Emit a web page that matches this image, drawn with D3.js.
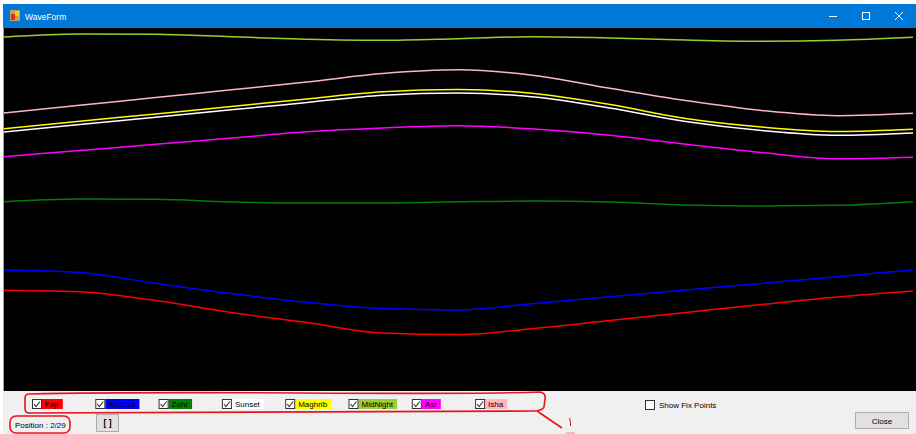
<!DOCTYPE html>
<html>
<head>
<meta charset="utf-8">
<script src="https://cdn.jsdelivr.net/npm/d3@7"></script>
<style>
  body { margin: 0; background: #fff; }
  svg { display: block; font-family: "Liberation Sans", Arial, sans-serif; }
</style>
</head>
<body>
<svg id="win" width="916" height="434"></svg>
<script>
const W = 916, H = 434;

// Series names, line colours and sampled values (13 samples across the period)
const names   = ["Fajr", "Sunrise", "Zohr", "Sunset", "Maghrib", "MidNight", "Asr", "Isha"];
const colors  = ["#ff0000", "#0000ff", "#008000", "#ffffff", "#ffff00", "#9acd32", "#ff00ff", "#ffb6c1"];
const samples = d3.range(13);

const fajr     = [100.7, 99.2, 90.4, 78.5, 68.4, 58, 56.5, 62.5, 70.5, 78.5, 86.5, 94, 100];
const sunrise  = [121, 118.5, 107.7, 97.4, 88.7, 82.4, 81, 87.5, 94.2, 101, 107.6, 114.3, 121];
const zohr     = [189.3, 192, 191.7, 189, 188, 188, 189.2, 190, 189, 186, 185, 185.7, 189.3];
const sunset   = [259, 266.5, 273.8, 281.2, 288.5, 295.8, 298, 294, 283, 269.5, 260.5, 255.7, 258];
const maghrib  = [262.3, 269.7, 277.1, 284.5, 292, 299.2, 301.5, 297.5, 286.5, 272.5, 264, 259.5, 261.7];
const midnight = [354, 357, 356.7, 354.3, 351.8, 350.7, 352.3, 354.3, 353.1, 350.9, 349.7, 350.7, 353.7];
const asr      = [234.3, 240.5, 246.7, 253, 259.2, 263, 265.2, 262, 255.8, 246.8, 238.5, 232.2, 233.7];
const isha     = [278, 285.7, 293.5, 301.2, 309, 317.5, 321.2, 315.5, 302.7, 290.5, 280.5, 275.3, 277.7];
const series   = [fajr, sunrise, zohr, sunset, maghrib, midnight, asr, isha];

const position = "Position : 2/29";

var svg = d3.select("#win");

// Title bar
svg.append("rect").attr("x", 3).attr("y", 4).attr("width", W - 3).attr("height", 24).attr("fill", "#0078d7");
// little app icon
svg.append("rect").attr("x", 10).attr("y", 10).attr("width", 10).attr("height", 11).attr("fill", "#c8a050");
svg.append("rect").attr("x", 11).attr("y", 14).attr("width", 4).attr("height", 6).attr("fill", "#d03030");
svg.append("rect").attr("x", 15).attr("y", 11).attr("width", 4).attr("height", 5).attr("fill", "#f0d020");
svg.append("text").attr("x", 25).attr("y", 19.5).attr("fill", "#fff").style("font-size", "8.5px").text("WaveForm");
// window buttons
svg.append("line").attr("x1", 829).attr("x2", 837).attr("y1", 16.5).attr("y2", 16.5).attr("stroke", "#fff");
svg.append("rect").attr("x", 862.5).attr("y", 12.5).attr("width", 7).attr("height", 7).attr("fill", "none").attr("stroke", "#fff");
svg.append("path").attr("d", "M895,12L903,20M903,12L895,20").attr("stroke", "#fff");

// Plot area
svg.append("rect").attr("x", 3).attr("y", 28).attr("width", W - 3).attr("height", 363).attr("fill", "#000");
svg.append("line").attr("x1", 3.5).attr("x2", 3.5).attr("y1", 28).attr("y2", 391).attr("stroke", "#a0a0a0");

var scaleX = d3.scaleLinear().domain([0, 12]).range([4, 913]);
var scaleY = d3.scaleLinear().domain([0, 363]).range([391, 28]);

var line = d3.line()
    .x((d, i) => scaleX(samples[i]))
    .y(d => scaleY(d))
    .curve(d3.curveMonotoneX);

svg.append("g").selectAll("path")
    .data(series)
    .join("path")
    .attr("d", line)
    .attr("fill", "none")
    .attr("stroke", (d, i) => colors[i])
    .attr("stroke-width", 1.5);

// Bottom panel
svg.append("rect").attr("x", 3).attr("y", 391).attr("width", W - 3).attr("height", H - 391).attr("fill", "#f0f0f0");

function checkbox(x, y, checked) {
    svg.append("rect").attr("x", x + 0.5).attr("y", y + 0.5).attr("width", 9).attr("height", 9)
        .attr("fill", "#fff").attr("stroke", "#333");
    if (checked)
        svg.append("path").attr("d", `M${x + 2},${y + 5}L${x + 4},${y + 7.5}L${x + 8},${y + 2.5}`)
            .attr("fill", "none").attr("stroke", "#333").attr("stroke-width", 1.1);
}

// Legend checkboxes with coloured labels
var legend = svg.append("g");
names.forEach(function(n, i) {
    let bx = 32 + i * 63.3;
    checkbox(bx, 399, true);
    let bg = legend.append("rect").attr("x", bx + 10).attr("y", 399).attr("height", 10).attr("fill", colors[i]);
    let t = legend.append("text").attr("x", bx + 13).attr("y", 407).style("font-size", "8px").attr("fill", "#000").text(n);
    bg.attr("width", t.node().getComputedTextLength() + 7);
});

// Show Fix Points
checkbox(645, 400, false);
svg.append("text").attr("x", 659).attr("y", 408).style("font-size", "8px").text("Show Fix Points");

// Position text
svg.append("text").attr("x", 15).attr("y", 428).style("font-size", "8px").text(position);

// "[]" button
svg.append("rect").attr("x", 96.5).attr("y", 414.5).attr("width", 22).attr("height", 17).attr("fill", "#e1e1e1").attr("stroke", "#adadad");
svg.append("text").attr("x", 107.5).attr("y", 426).attr("text-anchor", "middle").style("font-size", "8.5px").style("font-weight", "bold").text("[ ]");

// Close button
svg.append("rect").attr("x", 855.5).attr("y", 412.5).attr("width", 53).attr("height", 16).attr("fill", "#e1e1e1").attr("stroke", "#adadad");
svg.append("text").attr("x", 882).attr("y", 423.5).attr("text-anchor", "middle").style("font-size", "8px").text("Close");

// Red hand-drawn marks
var red = svg.append("g").attr("fill", "none").attr("stroke", "#e8141c").attr("stroke-width", 1.6);
red.append("path").attr("d", "M29,394 Q120,392 300,393 T540,392 Q546,393 545,399 L544,407 Q543,410 535,411 Q300,413 29,413 Q25,413 25,408 L25,398 Q25,394 29,394");
red.append("path").attr("d", "M537,411 L562,428");
red.append("path").attr("d", "M569.5,418 Q571,422 570.5,426").attr("stroke-width", 1);
red.append("rect").attr("x", 10).attr("y", 416).attr("width", 60).attr("height", 17).attr("rx", 6);
svg.append("rect").attr("x", 566).attr("y", 432).attr("width", 9).attr("height", 2).attr("fill", "#f4b8c0");
</script>
</body>
</html>
